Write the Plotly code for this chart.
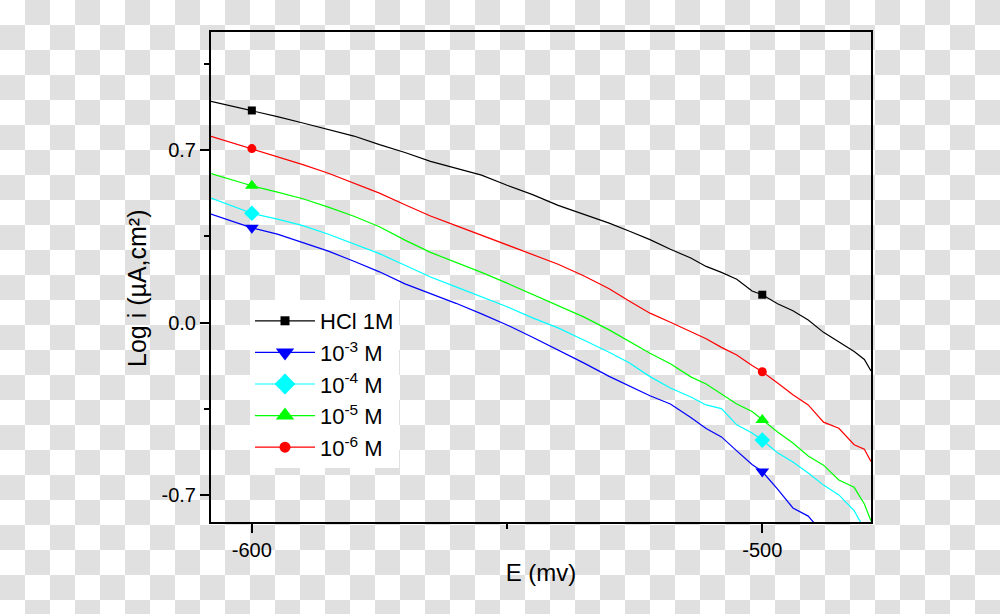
import base64
import plotly.graph_objects as go

# Potential (mV) grid shared by all curves
E_mv = [-608, -600, -595, -590, -585, -580, -575, -570, -565, -560, -555, -550,
        -545, -540, -535, -530, -526, -522, -518, -514, -511, -508, -505, -502,
        -500, -497, -494, -491, -488, -485, -482, -480, -478.7]

# Log i values
hcl_1m = [0.899, 0.862, 0.837, 0.811, 0.784, 0.758, 0.723, 0.691, 0.655, 0.628,
          0.599, 0.558, 0.520, 0.476, 0.440, 0.404, 0.371, 0.337, 0.298, 0.262,
          0.228, 0.204, 0.176, 0.128, 0.113, 0.076, 0.048, 0.010, -0.040, -0.078,
          -0.118, -0.150, -0.197]
c_1e6 = [0.757, 0.707, 0.675, 0.642, 0.607, 0.568, 0.526, 0.479, 0.433, 0.394,
         0.355, 0.316, 0.278, 0.237, 0.190, 0.137, 0.086, 0.038, 0.001, -0.038,
         -0.066, -0.101, -0.132, -0.175, -0.200, -0.246, -0.294, -0.335, -0.405,
         -0.430, -0.497, -0.515, -0.565]
c_1e5 = [0.605, 0.556, 0.530, 0.503, 0.469, 0.432, 0.389, 0.335, 0.285, 0.245,
         0.204, 0.160, 0.115, 0.070, 0.023, -0.030, -0.077, -0.125, -0.168, -0.221,
         -0.250, -0.290, -0.331, -0.362, -0.396, -0.445, -0.490, -0.543, -0.580,
         -0.640, -0.670, -0.738, -0.807]
c_1e4 = [0.506, 0.444, 0.420, 0.394, 0.359, 0.320, 0.280, 0.233, 0.185, 0.145,
         0.105, 0.064, 0.019, -0.022, -0.071, -0.121, -0.165, -0.220, -0.266, -0.303,
         -0.335, -0.350, -0.416, -0.449, -0.478, -0.530, -0.567, -0.612, -0.661,
         -0.701, -0.765, -0.840]
c_1e3 = [0.441, 0.385, 0.359, 0.326, 0.290, 0.249, 0.206, 0.157, 0.119, 0.078,
         0.035, -0.010, -0.060, -0.111, -0.164, -0.219, -0.258, -0.298, -0.331, -0.386,
         -0.431, -0.465, -0.522, -0.577, -0.606, -0.677, -0.754, -0.787, -0.860]

marker_at = [-600, -500]

x_tick_vals = [-600, -500]
x_tick_text = ["-600", "-500"]
y_tick_vals = [-0.7, 0.0, 0.7]
y_tick_text = ["-0.7", "0.0", "0.7"]

FONT = "Arial, 'Liberation Sans', sans-serif"

# name, values, colour, symbol, marker size on curve, marker size in legend
series = [
    ("HCl 1M", hcl_1m, "#000000", "square", 8, 9),
    ("10<sup>-3</sup> M", c_1e3, "#0000ff", "triangle-down", 12, 16),
    ("10<sup>-4</sup> M", c_1e4, "#00ffff", "diamond", 12, 16),
    ("10<sup>-5</sup> M", c_1e5, "#00ff00", "triangle-up", 12, 16),
    ("10<sup>-6</sup> M", c_1e6, "#ff0000", "circle", 9, 11),
]

fig = go.Figure()
for name, vals, color, symbol, size, lsize in series:
    fig.add_trace(go.Scatter(
        x=E_mv[:len(vals)], y=vals, mode="lines",
        line=dict(color=color, width=1.2),
        showlegend=False, hoverinfo="skip",
    ))
for name, vals, color, symbol, size, lsize in series:
    fig.add_trace(go.Scatter(
        x=marker_at, y=[vals[E_mv.index(e)] for e in marker_at],
        mode="markers", showlegend=False, hoverinfo="skip",
        marker=dict(symbol=symbol, size=size, color=color),
    ))
    # legend-only entry (larger symbols, as in the original legend)
    fig.add_trace(go.Scatter(
        x=[None], y=[None], mode="lines+markers", name=name,
        line=dict(color=color, width=1.2),
        marker=dict(symbol=symbol, size=lsize, color=color),
    ))

# transparent-style checkerboard behind the figure
svg = ("<svg xmlns='http://www.w3.org/2000/svg' width='1000' height='614'>"
       "<defs><pattern id='c' width='50' height='50' patternUnits='userSpaceOnUse'>"
       "<rect width='50' height='50' fill='#ffffff'/>"
       "<rect x='25' width='25' height='25' fill='#e0e0e0'/>"
       "<rect y='25' width='25' height='25' fill='#e0e0e0'/></pattern></defs>"
       "<rect width='1000' height='614' fill='url(#c)'/></svg>")
src = "data:image/svg+xml;base64," + base64.b64encode(svg.encode()).decode()

L, R, T, B = 211, 129, 32, 92
W, H = 1000 - L - R, 614 - T - B

axis_common = dict(
    showline=True, linecolor="black", linewidth=2, mirror=True,
    ticks="outside", ticklen=9, tickwidth=1.5, tickcolor="black",
    showgrid=False, zeroline=False,
    tickfont=dict(size=20, color="black", family=FONT),
)

fig.update_layout(
    width=1000, height=614,
    margin=dict(l=L, r=R, t=T, b=B),
    paper_bgcolor="rgba(0,0,0,0)",
    plot_bgcolor="rgba(0,0,0,0)",
    font=dict(family=FONT, color="black"),
    images=[dict(source=src, xref="paper", yref="paper",
                 x=-L / W, y=1 + T / H, sizex=1000 / W, sizey=614 / H,
                 xanchor="left", yanchor="top", sizing="stretch", layer="below")],
    xaxis=dict(
        range=[-608, -478.7], tickmode="array",
        tickvals=x_tick_vals, ticktext=x_tick_text,
        minor=dict(tickmode="array", tickvals=[-550], ticks="outside",
                   ticklen=5, tickwidth=1.5, tickcolor="black"),
        title=dict(text="E (mv)", font=dict(size=24, family=FONT), standoff=4),
        **axis_common,
    ),
    yaxis=dict(
        range=[-0.811, 1.181], tickmode="array",
        tickvals=y_tick_vals, ticktext=y_tick_text,
        minor=dict(tickmode="array", tickvals=[1.05, 0.35, -0.35], ticks="outside",
                   ticklen=5, tickwidth=1.5, tickcolor="black"),
        **axis_common,
    ),
    annotations=[dict(
        text="Log i (µA,cm²)", textangle=-90, showarrow=False,
        xref="paper", yref="paper", x=(137 - L) / W, y=(522 - 289) / H,
        xanchor="center", yanchor="middle",
        font=dict(size=25, family=FONT, color="black"),
    )],
    legend=dict(
        x=(250 - L) / W, y=(522 - 300) / H, xanchor="left", yanchor="top",
        bgcolor="white", borderwidth=0, itemwidth=60, tracegroupgap=0,
        font=dict(size=22, family=FONT, color="black"),
    ),
)

fig.write_html("out.html", config={"displayModeBar": False},
               post_script="document.body.style.margin='0';")
